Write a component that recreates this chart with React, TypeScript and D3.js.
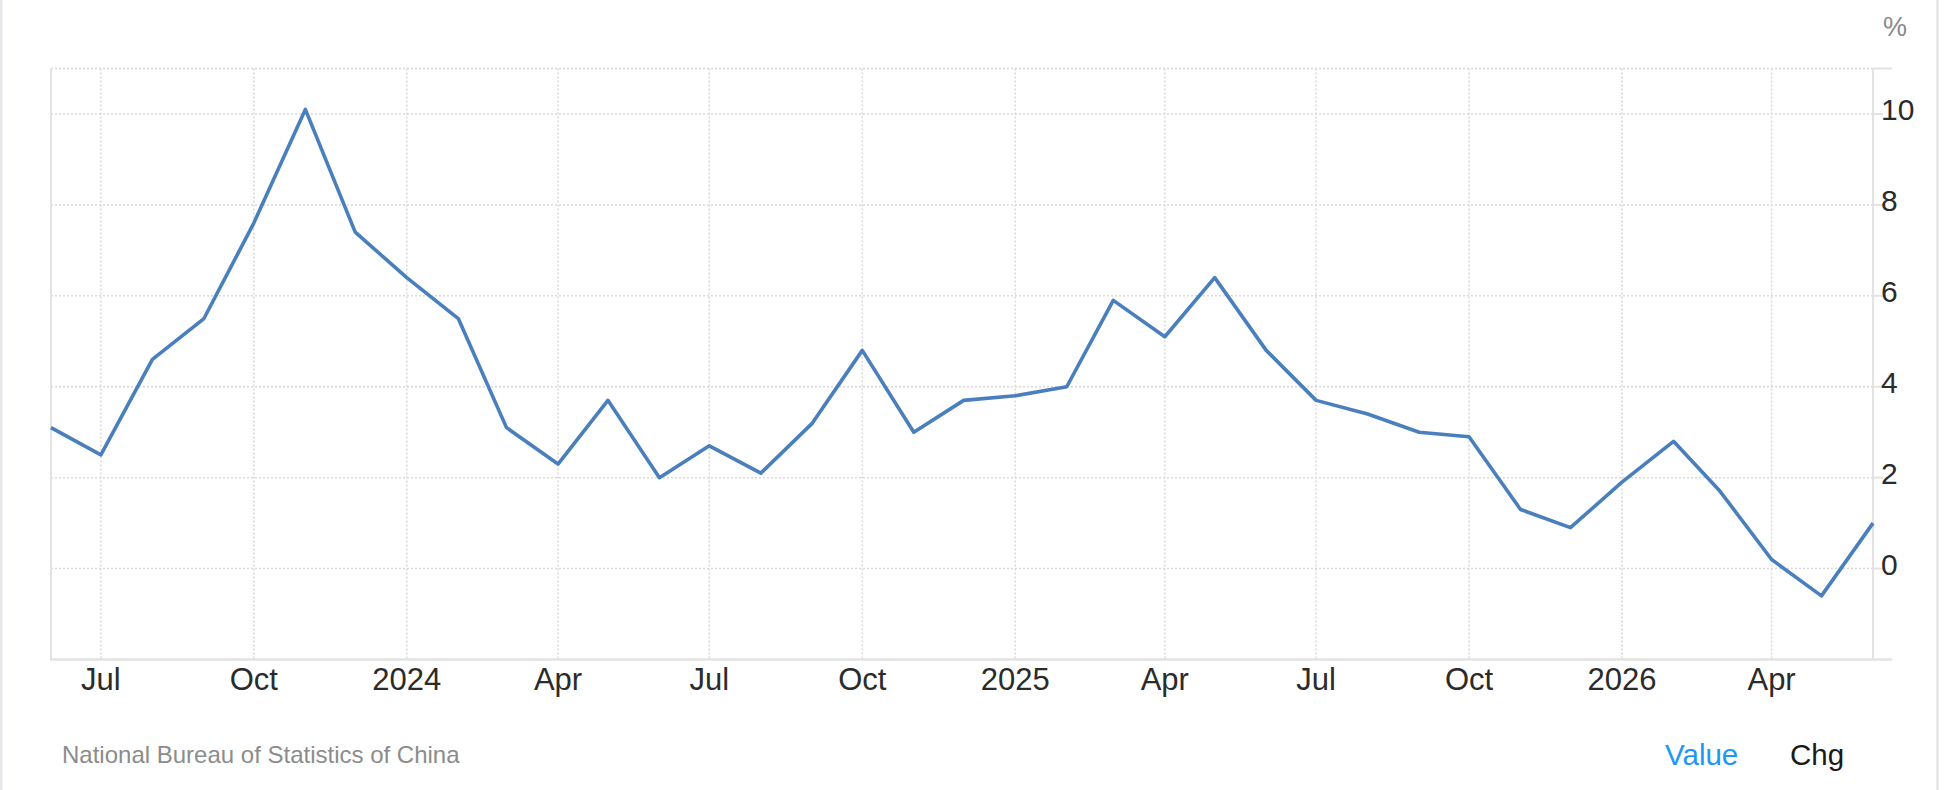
import React from "react";
import * as d3 from "d3";

// ---- data (monthly, Jun 2023 – Jun 2026) ----
const startYear = 2023;
const startMonth = 5; // June (0-based)
const values: number[] = [
  3.1, 2.5, 4.6, 5.5, 7.6, 10.1, 7.4,
  6.4, 5.5, 3.1, 2.3, 3.7, 2.0, 2.7, 2.1, 3.2, 4.8, 3.0, 3.7,
  3.8, 4.0, 5.9, 5.1, 6.4, 4.8, 3.7, 3.4, 3.0, 2.9, 1.3, 0.9,
  1.9, 2.8, 1.7, 0.2, -0.6, 1.0,
];
const yTickValues: number[] = [0, 2, 4, 6, 8, 10];
const yGridValues: number[] = [0, 2, 4, 6, 8, 10, 11];
const unitLabel = "%";
const sourceLabel = "National Bureau of Statistics of China";
const toggleLabels: string[] = ["Value", "Chg"];

const W = 1952;
const H = 790;
const FONT = "'Liberation Sans', Arial, Helvetica, sans-serif";

export default function App() {
  const dates = values.map((_, i) => new Date(startYear, startMonth + i, 1));
  const data = values.map((v, i) => ({ date: dates[i], value: v }));

  const x = d3
    .scaleTime()
    .domain([dates[0], dates[dates.length - 1]])
    .range([51, 1873]);
  const y = d3.scaleLinear().domain([-2, 11]).range([659.5, 68.5]);

  const xTicks = x.ticks(d3.timeMonth.every(3)!);
  const fmt = (d: Date) =>
    d.getMonth() === 0 ? d3.timeFormat("%Y")(d) : d3.timeFormat("%b")(d);

  const line = d3
    .line<{ date: Date; value: number }>()
    .x((d) => x(d.date))
    .y((d) => y(d.value));

  const [x0, x1] = x.range();
  const [yb, yt] = y.range();
  const gridColor = "#d9d9d9";
  const axisColor = "#e3e3e3";

  return (
    <svg
      width={W}
      height={H}
      style={{ position: "absolute", left: 0, top: 0, background: "#fff" }}
      fontFamily={FONT}
    >
      <rect x={0} y={0} width={W} height={H} fill="#fff" />
      {/* container borders */}
      <line x1={1.25} x2={1.25} y1={0} y2={H} stroke="#e8e8ec" strokeWidth={2.5} />
      <line x1={1937.5} x2={1937.5} y1={0} y2={H} stroke="#e4e4e8" strokeWidth={2.5} />

      {/* horizontal grid */}
      {yGridValues.map((v) => (
        <line
          key={"hg" + v}
          x1={x0}
          x2={x1}
          y1={y(v)}
          y2={y(v)}
          stroke={gridColor}
          strokeWidth={1.5}
          strokeDasharray="2,2"
        />
      ))}
      {/* vertical grid */}
      {xTicks.map((d) => (
        <line
          key={"vg" + d.getTime()}
          x1={x(d)}
          x2={x(d)}
          y1={yt}
          y2={yb}
          stroke={gridColor}
          strokeWidth={1.5}
          strokeDasharray="2,2"
        />
      ))}

      {/* axis lines */}
      <line x1={x0} x2={x0} y1={yt} y2={yb} stroke={axisColor} strokeWidth={2} />
      <line x1={x1} x2={x1} y1={yt} y2={yb} stroke={axisColor} strokeWidth={2} />
      <line x1={x0 - 1} x2={x1 + 19} y1={yb} y2={yb} stroke={axisColor} strokeWidth={2.5} />
      <line x1={x1} x2={x1 + 19} y1={yt} y2={yt} stroke={axisColor} strokeWidth={2} />

      {/* y ticks + labels */}
      {yTickValues.map((v) => (
        <g key={"yt" + v}>
          <line x1={x1} x2={x1 + 10} y1={y(v)} y2={y(v)} stroke={axisColor} strokeWidth={2} />
          <text x={x1 + 8} y={y(v) + 6.5} fontSize={30} fill="#2b2b2b">
            {v}
          </text>
        </g>
      ))}
      <text x={1883} y={36} fontSize={27} fill="#8a8a8a">
        {unitLabel}
      </text>

      {/* x labels */}
      {xTicks.map((d) => (
        <text
          key={"xl" + d.getTime()}
          x={x(d)}
          y={690}
          fontSize={31}
          fill="#2b2b2b"
          textAnchor="middle"
        >
          {fmt(d)}
        </text>
      ))}

      {/* series line */}
      <path
        d={line(data) || ""}
        fill="none"
        stroke="#4a7fbd"
        strokeWidth={3.6}
        strokeLinejoin="round"
      />

      {/* footer */}
      <text x={62} y={763} fontSize={24} fill="#8c8c8c">
        {sourceLabel}
      </text>
      <text x={1665} y={765} fontSize={29.5} fill="#2196f3">
        {toggleLabels[0]}
      </text>
      <text x={1790} y={765} fontSize={29.5} fill="#1a1a1a">
        {toggleLabels[1]}
      </text>
    </svg>
  );
}
